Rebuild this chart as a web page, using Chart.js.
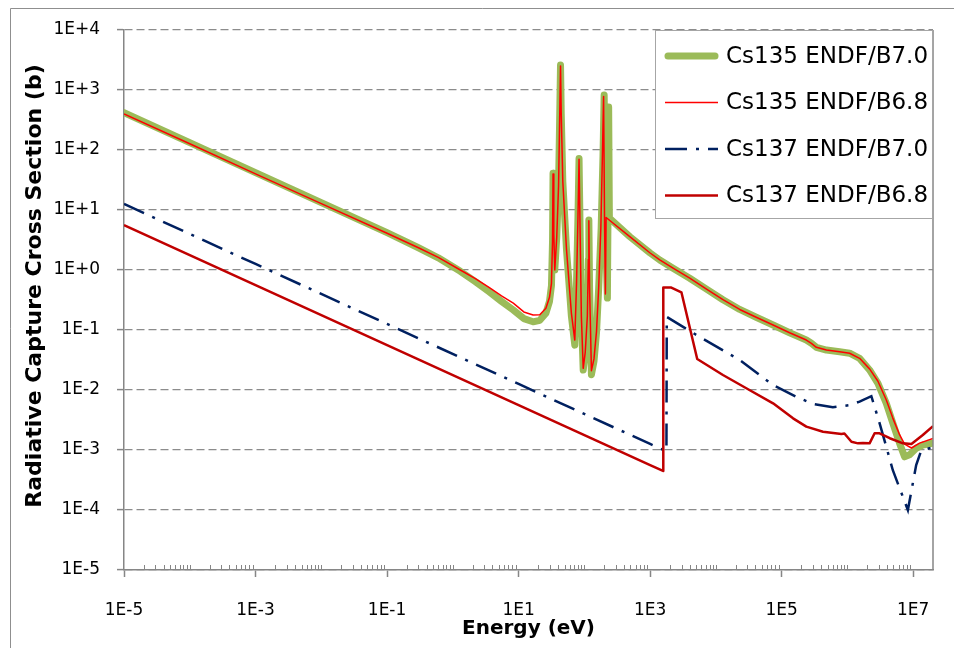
<!DOCTYPE html>
<html>
<head>
<meta charset="utf-8">
<title>Radiative Capture Cross Section</title>
<script src="https://cdn.jsdelivr.net/npm/chart.js@4.4.1/dist/chart.umd.min.js"></script>
<style>
  html, body { margin: 0; padding: 0; background: #fff; overflow: hidden; }
  #wrap { position: relative; width: 954px; height: 648px; }
</style>
</head>
<body>
<div id="wrap"><canvas id="xsChart" width="954" height="648"></canvas></div>
<script>
/* ---- data: [energy (eV), cross section (b)] ---- */
const cs135B70 = [
  [1e-5, 420], [1e-4, 133], [1e-3, 42], [1e-2, 13.3], [0.1, 4.2], [0.3, 2.35], [0.6, 1.6],
  [1.3, 0.95], [2.2, 0.64], [3.6, 0.43], [5.5, 0.3], [8.3, 0.215], [12, 0.155], [16.6, 0.137],
  [21, 0.145], [26, 0.19], [29.5, 0.3], [31.6, 0.55], [32.8, 3.0], [33.4, 41], [34.3, 4],
  [35.5, 1.0], [38, 3.5], [40.5, 25], [42.5, 600], [43.4, 2600], [44.5, 400], [47, 30],
  [53.5, 2.2], [63.5, 0.17], [71.5, 0.056], [76, 0.6], [80, 8], [83, 72], [86, 5], [90, 0.17],
  [96, 0.0215], [103, 0.04], [111, 0.17], [115, 1.5], [117, 6.8], [120, 0.5], [128, 0.018],
  [140, 0.03], [153, 0.09], [165, 0.5], [180, 5], [192, 80], [200, 825], [212, 3], [224, 0.34],
  [230, 20], [234, 520], [240, 7.3], [490, 3.6], [1000, 1.92], [1400, 1.47], [2230, 1.07],
  [4000, 0.73], [7200, 0.48], [1.28e4, 0.32], [2.3e4, 0.22], [4.1e4, 0.163], [7.4e4, 0.121],
  [1.32e5, 0.09], [2.37e5, 0.068], [2.83e5, 0.06], [3.37e5, 0.0515], [4.8e5, 0.0464],
  [7.6e5, 0.0435], [1.08e6, 0.041], [1.53e6, 0.0337], [2.17e6, 0.0216], [2.91e6, 0.0129],
  [3.9e6, 0.006], [4.9e6, 0.0028], [6.2e6, 0.0013], [7.4e6, 0.00077], [8.8e6, 0.00083],
  [1.11e7, 0.00107], [1.4e7, 0.00121], [2e7, 0.0013]
];

const cs135B68 = [
  [1e-5, 400], [1e-4, 127], [1e-3, 40], [1e-2, 12.8], [0.1, 4.1], [0.3, 2.35], [0.6, 1.62],
  [1.3, 1.0], [2.2, 0.72], [3.6, 0.51], [5.5, 0.37], [8.3, 0.28], [12, 0.2], [16.6, 0.178],
  [21, 0.18], [26, 0.23], [29.5, 0.35], [31.6, 0.6], [32.8, 3.0], [33.4, 40], [34.3, 4],
  [35.5, 1.0], [38, 3.5], [40.5, 25], [42.5, 600], [43.4, 2500], [44.5, 400], [47, 30],
  [53.5, 2.2], [63.5, 0.19], [71.5, 0.068], [76, 0.6], [80, 8], [83, 70], [86, 5], [90, 0.17],
  [96, 0.023], [103, 0.042], [111, 0.17], [115, 1.5], [117, 6.6], [120, 0.5], [128, 0.021],
  [140, 0.033], [153, 0.095], [165, 0.5], [178, 5], [188, 80], [196, 780], [203, 5], [209, 0.4],
  [214, 7.5], [490, 3.6], [1000, 1.92], [1400, 1.47], [2230, 1.07], [4000, 0.73], [7200, 0.48],
  [1.28e4, 0.32], [2.3e4, 0.22], [4.1e4, 0.163], [7.4e4, 0.121], [1.32e5, 0.09], [2.37e5, 0.068],
  [2.83e5, 0.06], [3.37e5, 0.0515], [4.8e5, 0.0464], [7.6e5, 0.0435], [1.08e6, 0.041],
  [1.53e6, 0.0337], [2.17e6, 0.0225], [2.91e6, 0.014], [3.9e6, 0.0068], [4.9e6, 0.0034],
  [6.2e6, 0.0018], [7.4e6, 0.00125], [9.4e6, 0.00108], [1.25e7, 0.0013], [2e7, 0.00155]
];

const cs137B70 = [
  [1e-5, 12.6], [1e-3, 1.26], [1e-1, 0.126], [10, 0.0126], [1000, 0.00126], [1770, 0.00095],
  [1790, 0.165], [5060, 0.0826], [2.3e4, 0.0316], [7.4e4, 0.0121], [1.67e5, 0.0077],
  [3.0e5, 0.00585], [6.0e5, 0.00515], [1.08e6, 0.0056], [1.53e6, 0.0064], [2.31e6, 0.0079],
  [3.08e6, 0.0028], [3.9e6, 0.00113], [4.9e6, 0.00046], [8.3e6, 0.0001], [1.11e7, 0.00056],
  [1.32e7, 0.00097], [1.77e7, 0.00107], [2e7, 0.0011]
];

const cs137B68 = [
  [1e-5, 5.6], [1e-3, 0.56], [1e-1, 0.056], [10, 0.0056], [1000, 0.00056], [1570, 0.000447],
  [1585, 0.51], [2100, 0.51], [2990, 0.425], [5200, 0.0329], [1.28e4, 0.0178], [2.9e4, 0.0107],
  [7.4e4, 0.006], [1.49e5, 0.00337], [2.37e5, 0.00245], [4.25e5, 0.00202], [8.1e5, 0.00185],
  [9.0e5, 0.00188], [1.15e6, 0.00137], [1.45e6, 0.00129], [1.72e6, 0.00131], [2.17e6, 0.00129],
  [2.59e6, 0.0019], [3.08e6, 0.0019], [4.4e6, 0.00157], [7.0e6, 0.00129], [9.4e6, 0.00126],
  [1.4e7, 0.00178], [2e7, 0.0025]
];

const seriesLabels = ['Cs135 ENDF/B7.0', 'Cs135 ENDF/B6.8', 'Cs137 ENDF/B7.0', 'Cs137 ENDF/B6.8'];

const xTickValues = [1e-5, 1e-3, 1e-1, 1e1, 1e3, 1e5, 1e7];
const xTickLabels = ['1E-5', '1E-3', '1E-1', '1E1', '1E3', '1E5', '1E7'];
const yTickValues = [1e-5, 1e-4, 1e-3, 1e-2, 1e-1, 1e0, 1e1, 1e2, 1e3, 1e4];
const yTickLabels = ['1E-5', '1E-4', '1E-3', '1E-2', '1E-1', '1E+0', '1E+1', '1E+2', '1E+3', '1E+4'];

const AXIS_GRAY = '#868686';

Chart.defaults.font.family = '"DejaVu Sans", sans-serif';
Chart.defaults.color = '#000';

function toPoints(pairs) {
  return pairs.map(p => ({ x: p[0], y: p[1] }));
}

/* ---- extra drawing: frame, minor ticks, right edge, y title, legend ---- */
const decorPlugin = {
  id: 'decor',
  beforeDraw(chart) {
    const ctx = chart.ctx;
    ctx.save();
    ctx.strokeStyle = '#8f8f8f';
    ctx.lineWidth = 1;
    ctx.beginPath();
    ctx.moveTo(10.5, chart.height);
    ctx.lineTo(10.5, 8.5);
    ctx.lineTo(chart.width, 8.5);
    ctx.stroke();
    ctx.restore();
  },
  afterDraw(chart) {
    const { ctx, chartArea } = chart;
    const xs = chart.scales.x;

    ctx.save();
    ctx.strokeStyle = AXIS_GRAY;
    ctx.lineWidth = 1.5;
    ctx.beginPath();
    ctx.moveTo(chartArea.right, chartArea.top);
    ctx.lineTo(chartArea.right, chartArea.bottom);
    ctx.stroke();

    // minor ticks point up into the plot
    ctx.lineWidth = 1;
    ctx.beginPath();
    for (let p = -5; p < 7; p++) {
      for (let m = 2; m <= 10; m++) {
        const v = m * Math.pow(10, p);
        if (xTickValues.some(t => Math.abs(t - v) / t < 1e-6)) continue;
        const px = Math.round(xs.getPixelForValue(v)) + 0.5;
        ctx.moveTo(px, chartArea.bottom);
        ctx.lineTo(px, chartArea.bottom - 5);
      }
    }
    ctx.stroke();

    // y axis title
    ctx.fillStyle = '#000';
    ctx.font = 'bold 22px "DejaVu Sans", sans-serif';
    ctx.textAlign = 'center';
    ctx.textBaseline = 'middle';
    ctx.translate(35, 286);
    ctx.rotate(-Math.PI / 2);
    ctx.fillText('Radiative Capture Cross Section (b)', 0, 0);
    ctx.restore();

    // legend box
    const box = { left: 655, top: chartArea.top, right: chartArea.right, bottom: 219 };
    ctx.save();
    ctx.fillStyle = '#fff';
    ctx.fillRect(box.left, box.top, box.right - box.left, box.bottom - box.top);
    ctx.strokeStyle = '#a6a6a6';
    ctx.lineWidth = 1;
    ctx.strokeRect(box.left + 0.5, box.top + 0.5, box.right - box.left - 1, box.bottom - box.top - 1);

    ctx.font = '23px "DejaVu Sans", sans-serif';
    ctx.textAlign = 'left';
    ctx.textBaseline = 'middle';
    chart.data.datasets.forEach((ds, i) => {
      const y = 56 + i * 46.5;
      ctx.save();
      ctx.strokeStyle = ds.borderColor;
      ctx.lineWidth = ds.borderWidth;
      ctx.lineCap = ds.borderCapStyle || 'butt';
      ctx.setLineDash(ds.borderDash || []);
      ctx.beginPath();
      ctx.moveTo(ds.borderCapStyle === 'round' ? 668 : 665, y);
      ctx.lineTo(ds.borderCapStyle === 'round' ? 715 : 718, y);
      ctx.stroke();
      ctx.restore();
      ctx.fillStyle = '#000';
      ctx.fillText(ds.label, 726, y + 1);
    });
    ctx.restore();
  }
};

/* ---- chart ---- */
const chart = new Chart(document.getElementById('xsChart'), {
  type: 'line',
  data: {
    datasets: [
      {
        label: seriesLabels[0],
        data: toPoints(cs135B70),
        borderColor: '#9BBB59',
        borderWidth: 7,
        borderCapStyle: 'round',
        borderJoinStyle: 'round',
        order: 4
      },
      {
        label: seriesLabels[1],
        data: toPoints(cs135B68),
        borderColor: '#FF0000',
        borderWidth: 1.5,
        borderJoinStyle: 'round',
        order: 3
      },
      {
        label: seriesLabels[2],
        data: toPoints(cs137B70),
        borderColor: '#002060',
        borderWidth: 2.5,
        borderDash: [22, 9, 3, 9],
        borderCapStyle: 'butt',
        order: 2
      },
      {
        label: seriesLabels[3],
        data: toPoints(cs137B68),
        borderColor: '#C00000',
        borderWidth: 2.5,
        borderJoinStyle: 'round',
        order: 1
      }
    ]
  },
  options: {
    responsive: false,
    animation: false,
    devicePixelRatio: 1,
    layout: { padding: { left: 0, top: 30, right: 21, bottom: 0 } },
    elements: {
      point: { radius: 0, hoverRadius: 0 },
      line: { tension: 0, fill: false }
    },
    plugins: {
      legend: { display: false },
      tooltip: { enabled: false }
    },
    scales: {
      x: {
        type: 'logarithmic',
        min: 1e-5,
        max: 2e7,
        afterBuildTicks: s => { s.ticks = xTickValues.map(v => ({ value: v })); },
        afterFit: s => { s.height = 78; },
        ticks: {
          autoSkip: false,
          maxRotation: 0,
          padding: 23,
          font: { size: 17 },
          color: '#000',
          callback: (v, i) => xTickLabels[i]
        },
        grid: {
          drawOnChartArea: false,
          drawTicks: true,
          tickLength: 7,
          tickColor: AXIS_GRAY,
          tickWidth: 1.5
        },
        border: { color: AXIS_GRAY, width: 1.5 },
        title: {
          display: true,
          text: 'Energy (eV)',
          color: '#000',
          font: { size: 20, weight: 'bold' },
          padding: { top: 0, bottom: 7 }
        }
      },
      y: {
        type: 'logarithmic',
        min: 1e-5,
        max: 1e4,
        afterBuildTicks: s => { s.ticks = yTickValues.map(v => ({ value: v })); },
        afterFit: s => { s.width = 124; },
        ticks: {
          autoSkip: false,
          padding: 17,
          font: { size: 17 },
          color: '#000',
          callback: (v, i) => yTickLabels[i]
        },
        grid: {
          color: '#8c8c8c',
          lineWidth: 1.2,
          drawTicks: true,
          tickLength: 7,
          tickColor: AXIS_GRAY,
          tickWidth: 1.5,
          tickBorderDash: []
        },
        border: { color: AXIS_GRAY, width: 1.5, dash: [8, 4] }
      }
    }
  },
  plugins: [decorPlugin]
});
</script>
</body>
</html>
